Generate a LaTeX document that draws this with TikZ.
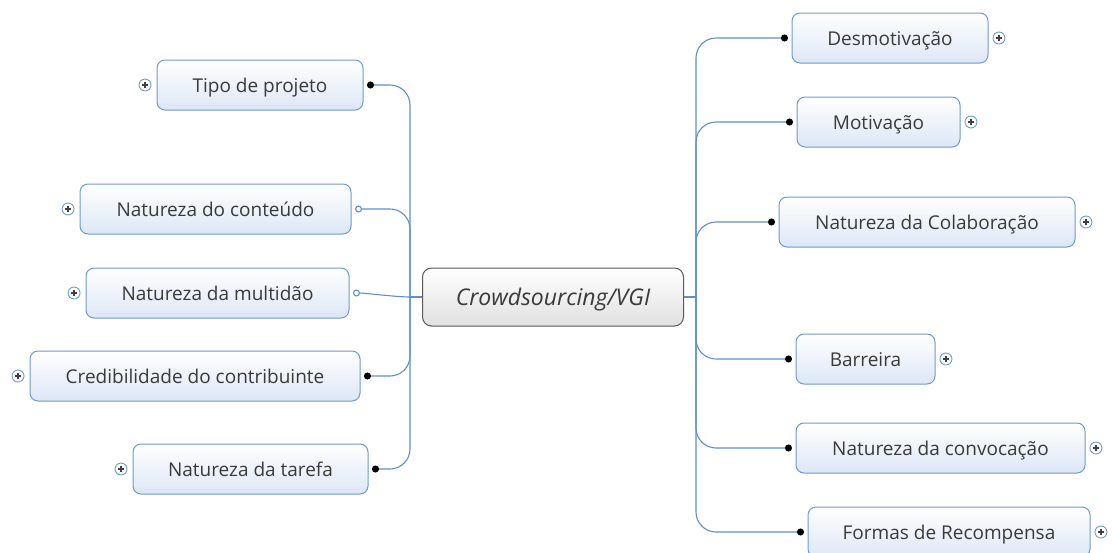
\documentclass[tikz,border=0pt]{standalone}
\usepackage{fontspec}
\setmainfont{Open Sans}
\usetikzlibrary{positioning,arrows.meta}
\definecolor{linkblue}{HTML}{5E8FCB}
\definecolor{boxblue}{HTML}{6E9BD0}
\definecolor{boxfill}{HTML}{DCE7F5}
\definecolor{txtgray}{HTML}{3A3A3A}
\begin{document}
\begin{tikzpicture}
[ x=1pt, y=-1pt
, every node/.style={font=\fontsize{19}{22}\selectfont, text=txtgray}
, topic/.style={draw=boxblue, line width=1pt, rounded corners=8pt,
    top color=white, bottom color=boxfill, minimum height=50pt, inner sep=0pt,
    text height=17pt, text depth=2pt}
, central/.style={draw=black!65, line width=1pt, rounded corners=9pt,
    top color=white, bottom color=black!12, minimum height=58pt,
    minimum width=261pt, inner sep=0pt, text height=19pt, text depth=2pt,
    font=\fontsize{23}{26}\selectfont\itshape}
, plusmark/.style={circle, draw=boxblue, fill=white, minimum size=12pt,
    inner sep=0pt, line width=0.9pt,
    path picture={\draw[line width=1.2pt, black!75]
      ([xshift=-3pt]path picture bounding box.center) -- ++(6pt,0)
      ([yshift=-3pt]path picture bounding box.center) -- ++(0,6pt);}}
, link/.style={draw=linkblue, line width=1.1pt, rounded corners=20pt,
    shorten >=1.5pt, -{Circle[length=7pt, color=black]}}
, openlink/.style={link, -{Circle[length=7pt, open, color=linkblue, fill=white]}}
]
\useasboundingbox (0,0) rectangle (1112,552);

\node[central] (root) at (553,297) {Crowdsourcing/VGI};

\node[topic, minimum width=206pt] (tipo)     at (260,85)  {Tipo de projeto};
\node[topic, minimum width=271pt] (conteudo) at (215.5,209) {Natureza do conteúdo};
\node[topic, minimum width=263pt] (multidao) at (217.5,293) {Natureza da multidão};
\node[topic, minimum width=330pt] (credib)   at (195,376) {Credibilidade do contribuinte};
\node[topic, minimum width=235pt] (tarefa)   at (250.5,469) {Natureza da tarefa};

\node[topic, minimum width=196pt] (desmot)   at (890,38)  {Desmotivação};
\node[topic, minimum width=163pt] (motiv)    at (878.5,122) {Motivação};
\node[topic, minimum width=296pt] (colab)    at (927,222) {Natureza da Colaboração};
\node[topic, minimum width=139pt] (barreira) at (865.5,359) {Barreira};
\node[topic, minimum width=289pt] (convoc)   at (940.5,448) {Natureza da convocação};
\node[topic, minimum width=282pt] (recomp)   at (949,532) {Formas de Recompensa};

\node[plusmark, left=5pt of tipo]     (tipoP)  {};
\node[plusmark, left=5pt of conteudo] (contP)  {};
\node[plusmark, left=5pt of multidao] (multP)  {};
\node[plusmark, left=5pt of credib]   (credP)  {};
\node[plusmark, left=5pt of tarefa]   (tarP)   {};
\node[plusmark, right=4pt of desmot]  (desmP)  {};
\node[plusmark, right=4pt of motiv]   (motP)   {};
\node[plusmark, right=4pt of colab]   (colP)   {};
\node[plusmark, right=4pt of barreira] (barP)  {};
\node[plusmark, right=4pt of convoc]  (convP)  {};
\node[plusmark, right=4pt of recomp]  (recP)   {};

\coordinate (ltrunk) at ([xshift=-12pt]root.west);
\coordinate (rtrunk) at ([xshift=12pt]root.east);

\draw[draw=linkblue, line width=1.1pt] (root.west) -- (ltrunk);
\draw[draw=linkblue, line width=1.1pt] (root.east) -- (rtrunk);

\draw[link]     (ltrunk) |- ([xshift=2pt]tipo.east);
\draw[openlink] (ltrunk) |- ([xshift=2pt]conteudo.east);
\draw[openlink] (ltrunk) to[out=180, in=0, looseness=0.6] ([xshift=2pt]multidao.east);
\draw[link]     (ltrunk) |- ([xshift=2pt]credib.east);
\draw[link]     (ltrunk) |- ([xshift=2pt]tarefa.east);

\draw[link] (rtrunk) |- ([xshift=-2pt]desmot.west);
\draw[link] (rtrunk) |- ([xshift=-2pt]motiv.west);
\draw[link] (rtrunk) |- ([xshift=-2pt]colab.west);
\draw[link] (rtrunk) |- ([xshift=-2pt]barreira.west);
\draw[link] (rtrunk) |- ([xshift=-2pt]convoc.west);
\draw[link] (rtrunk) |- ([xshift=-2pt]recomp.west);

\end{tikzpicture}
\end{document}
